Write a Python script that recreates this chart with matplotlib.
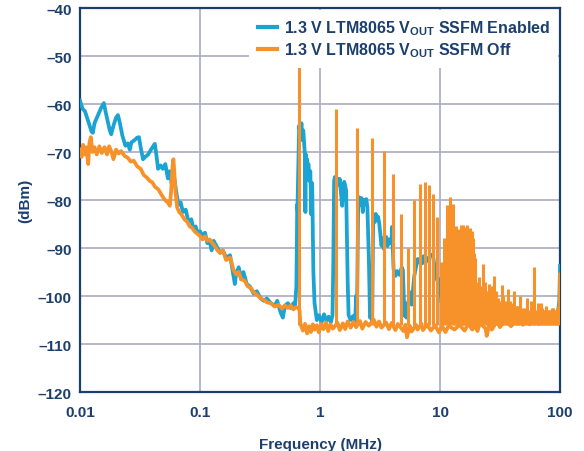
import matplotlib
matplotlib.use("Agg")
import matplotlib.pyplot as plt

# --- data (frequency in MHz, level in dBm) ---
blue_freq = [
    0.0100, 0.0105, 0.0110, 0.0115, 0.0120, 0.0125, 0.0128, 0.0132, 0.0140, 0.0150,
    0.0158, 0.0163, 0.0170, 0.0177, 0.0182, 0.0190, 0.0200, 0.0207, 0.0215, 0.0225,
    0.0239, 0.0250, 0.0260, 0.0268, 0.0285, 0.0300, 0.0310, 0.0320, 0.0335, 0.0350,
    0.0370, 0.0390, 0.0420, 0.0435, 0.0447, 0.0470, 0.0490, 0.0514, 0.0540, 0.0560,
    0.0580, 0.0595, 0.0615, 0.0640, 0.0660, 0.0690, 0.0720, 0.0760, 0.0800, 0.0846,
    0.0880, 0.0920, 0.0960, 0.1000, 0.1050, 0.1100, 0.1150, 0.1200, 0.1250, 0.1300,
    0.1400, 0.1470, 0.1550, 0.1650, 0.1780, 0.1850, 0.1950, 0.2000, 0.2100, 0.2200,
    0.2300, 0.2450, 0.2600, 0.2800, 0.2970, 0.3200, 0.3400, 0.3600, 0.3900, 0.4200,
    0.4400, 0.4700, 0.4900, 0.5100, 0.5400, 0.5700, 0.6000, 0.6200, 0.6350, 0.6420,
    0.6450, 0.6480, 0.6700, 0.6900, 0.7000, 0.7100, 0.7250, 0.7400, 0.7500, 0.7550,
    0.7600, 0.7700, 0.7800, 0.7900, 0.8000, 0.8150, 0.8300, 0.8450, 0.8600, 0.8800,
    0.9000, 0.9400, 0.9800, 1.0300, 1.0800, 1.1300, 1.1800, 1.2300, 1.2700, 1.2900,
    1.3100, 1.3300, 1.3600, 1.3900, 1.4200, 1.4600, 1.5000, 1.5300, 1.5600, 1.5900,
    1.6200, 1.6500, 1.7000, 1.7300, 1.8000, 1.8800, 1.9600, 2.0000, 2.0300, 2.0800,
    2.1200, 2.1700, 2.2200, 2.2700, 2.3200, 2.3800, 2.4300, 2.4800, 2.5500, 2.6100,
    2.6500, 2.7200, 2.7700, 2.8000, 2.8600, 2.9200, 2.9800, 3.0500, 3.1200, 3.2000,
    3.2500, 3.3200, 3.4000, 3.4800, 3.5600, 3.6500, 3.7500, 3.8500, 3.9500, 3.9800,
    4.1000, 4.2500, 4.4000, 4.6000, 4.8000, 4.9000, 5.0500, 5.1500, 5.2500, 5.4000,
    5.6000, 5.8000, 6.1000, 6.3000, 6.5000, 6.7000, 6.9000, 7.1000, 7.3000, 7.6000,
    7.9000, 8.3000, 8.7000, 8.9000, 9.2000, 9.6000, 9.9000, 10.300, 10.800, 11.500,
    12.100, 12.700, 13.300, 13.800, 14.300, 14.700, 15.200, 15.700, 16.200, 16.600,
    17.200, 17.800, 18.500, 19.200, 19.700, 20.300, 22.000, 25.000, 26.500, 29.000,
    33.000, 36.000, 40.000, 44.000, 48.000, 52.000, 57.000, 62.000, 68.000, 74.000,
    80.000, 86.000, 92.000, 96.000, 98.500, 100.00,
]
blue_dbm = [
    -59.3, -61.0, -61.5, -63.0, -64.5, -65.8, -66.0, -64.0, -62.5, -60.8,
    -59.8, -61.5, -63.5, -65.5, -66.3, -64.5, -62.8, -62.3, -64.0, -66.5,
    -68.7, -68.2, -69.5, -68.0, -67.5, -67.0, -66.9, -69.0, -71.5, -71.0,
    -70.5, -69.5, -68.3, -71.0, -73.5, -72.8, -73.5, -72.5, -75.5, -74.0,
    -76.5, -74.0, -76.0, -79.0, -81.0, -80.5, -82.5, -82.0, -84.5, -84.0,
    -86.0, -85.5, -87.0, -86.5, -87.5, -86.8, -89.0, -88.5, -90.5, -88.5,
    -90.0, -91.0, -90.5, -92.0, -91.5, -94.0, -97.5, -95.4, -94.0, -96.5,
    -95.0, -97.5, -98.0, -99.5, -99.0, -100.5, -101.0, -100.5, -101.5, -102.0,
    -101.0, -103.5, -104.5, -102.0, -101.5, -102.5, -101.5, -102.0, -98.0, -88.0,
    -81.0, -82.0, -64.5, -66.5, -64.0, -67.5, -65.5, -69.0, -71.0, -82.5,
    -70.5, -73.0, -71.5, -75.0, -72.5, -76.0, -74.0, -83.0, -76.5, -95.0,
    -101.5, -105.0, -104.0, -105.5, -103.8, -105.2, -104.3, -105.5, -104.0, -93.0,
    -76.0, -75.2, -77.0, -75.5, -76.8, -75.6, -79.0, -81.2, -77.5, -76.2,
    -77.0, -78.0, -97.0, -104.0, -105.0, -104.2, -105.3, -100.0, -104.5, -80.5,
    -79.4, -81.0, -79.6, -82.5, -80.0, -80.6, -79.8, -81.5, -92.0, -104.5,
    -104.0, -105.2, -84.5, -83.0, -84.6, -82.9, -84.2, -83.5, -85.0, -87.8,
    -89.5, -88.0, -90.2, -88.5, -87.7, -89.6, -88.2, -89.0, -87.8, -85.6,
    -94.4, -95.8, -94.8, -95.6, -94.0, -94.6, -104.1, -101.5, -104.5, -102.0,
    -99.2, -101.8, -95.8, -94.0, -92.3, -93.0, -92.0, -93.2, -91.7, -93.0,
    -92.2, -91.6, -91.3, -93.0, -95.8, -97.1, -96.5, -101.3, -99.0, -98.5,
    -97.0, -100.6, -98.0, -100.2, -97.0, -99.5, -97.2, -99.6, -97.5, -100.0,
    -98.5, -100.3, -100.0, -101.3, -100.2, -104.0, -105.5, -104.5, -105.8, -104.8,
    -105.5, -104.6, -105.2, -104.3, -105.0, -104.0, -104.8, -103.8, -104.6, -103.8,
    -104.4, -103.6, -104.0, -103.5, -101.0, -93.7,
]

orange_freq = [
    0.0100, 0.0103, 0.0106, 0.0110, 0.0113, 0.0117, 0.0120, 0.0123, 0.0127, 0.0132,
    0.0138, 0.0145, 0.0152, 0.0160, 0.0168, 0.0175, 0.0183, 0.0190, 0.0200, 0.0210,
    0.0220, 0.0235, 0.0250, 0.0265, 0.0280, 0.0300, 0.0320, 0.0340, 0.0360, 0.0380,
    0.0400, 0.0420, 0.0450, 0.0480, 0.0510, 0.0540, 0.0560, 0.0575, 0.0590, 0.0600,
    0.0610, 0.0625, 0.0645, 0.0670, 0.0700, 0.0740, 0.0780, 0.0820, 0.0860, 0.0900,
    0.0950, 0.1000, 0.1050, 0.1100, 0.1150, 0.1200, 0.1300, 0.1400, 0.1470, 0.1550,
    0.1650, 0.1780, 0.1900, 0.2000, 0.2100, 0.2200, 0.2350, 0.2500, 0.2650, 0.2800,
    0.3000, 0.3200, 0.3400, 0.3600, 0.3900, 0.4200, 0.4500, 0.4800, 0.5100, 0.5400,
    0.5700, 0.6000, 0.6300, 0.6600, 0.6750, 0.6850, 0.6900, 0.7200, 0.7500, 0.7800,
    0.8100, 0.8400, 0.8700, 0.9000, 0.9400, 0.9800, 1.0200, 1.0700, 1.1200, 1.1700,
    1.2200, 1.2800, 1.4000, 1.4600, 1.5500, 1.6200, 1.7000, 1.8000, 1.9000, 2.0000,
    2.1500, 2.2500, 2.4000, 2.5500, 2.8000, 2.9500, 3.1000, 3.2500, 3.5500, 3.7500,
    3.9500, 4.2500, 4.4500, 4.9500, 5.1500, 5.3000, 5.6000, 5.8000, 6.3000, 6.5000,
    7.0000, 7.2000, 7.8000, 8.4000, 9.1000, 9.8000, 10.400, 11.100, 11.800, 13.200,
    14.500, 16.000, 17.200, 18.600, 19.400, 20.500, 21.500, 24.000, 24.500, 26.000,
    27.000, 30.000, 31.500, 35.000, 39.000, 44.000, 49.000, 51.000, 56.000, 64.000,
    66.000, 72.000, 80.000, 86.000, 91.000, 96.000, 99.000, 100.00,
]
orange_dbm = [
    -69.5, -71.0, -68.5, -70.5, -69.0, -72.5, -68.0, -66.9, -70.0, -69.0,
    -70.5, -68.8, -70.2, -69.0, -70.5, -68.8, -70.0, -71.5, -69.5, -70.3,
    -69.8, -70.8, -71.2, -72.0, -71.8, -73.0, -73.5, -74.8, -75.3, -76.0,
    -76.3, -77.2, -77.8, -79.0, -80.0, -80.5, -81.2, -78.0, -73.0, -71.5,
    -74.0, -78.5, -81.5, -82.5, -83.0, -84.0, -84.5, -85.5, -85.8, -86.5,
    -87.0, -87.5, -88.2, -87.6, -88.5, -88.2, -89.3, -90.5, -91.0, -90.5,
    -92.5, -92.0, -94.5, -95.5, -95.0, -96.5, -96.8, -98.0, -98.3, -99.2,
    -99.8, -100.5, -100.8, -101.3, -101.5, -102.2, -101.8, -102.6, -102.0, -102.5,
    -102.0, -102.8, -102.3, -102.5, -103.0, -105.5, -106.0, -107.2, -105.8, -107.8,
    -106.3, -107.5, -105.9, -107.0, -106.1, -107.6, -105.8, -106.9, -105.5, -107.3,
    -105.9, -106.8, -105.6, -107.1, -105.7, -106.9, -105.3, -106.6, -105.4, -106.5,
    -105.2, -106.8, -105.4, -106.2, -104.9, -106.4, -105.3, -106.6, -105.5, -106.9,
    -105.6, -107.1, -105.8, -107.3, -106.0, -108.6, -106.2, -107.4, -106.0, -107.0,
    -105.8, -107.1, -106.0, -107.2, -106.1, -107.6, -106.3, -107.5, -106.2, -107.0,
    -106.0, -107.2, -105.8, -107.0, -106.0, -107.3, -105.6, -106.8, -108.3, -105.4,
    -107.0, -105.2, -106.5, -105.0, -106.3, -104.8, -106.0, -105.0, -105.9, -104.8,
    -105.8, -104.6, -105.5, -104.3, -105.2, -104.0, -104.6, -95.5,
]

# narrow switching harmonics of the SSFM-off trace
spike_freq = [
    0.672, 1.35, 2.03, 2.70, 3.40, 4.08, 4.75, 5.40, 6.08, 6.75,
    7.45, 8.12, 8.80, 9.47, 10.1, 10.8, 11.5, 12.2, 12.9, 13.25,
    13.6, 13.9, 14.2, 14.55, 14.9, 15.25, 15.6, 15.95, 16.3, 16.6,
    16.9, 17.25, 17.6, 17.95, 18.3, 18.65, 19.0, 19.35, 19.7, 20.3,
    21.0, 22.0, 22.8, 23.8, 24.6, 25.5, 26.5, 27.2, 28.1, 29.0,
    30.2, 31.3, 32.6, 33.7, 34.8, 36.0, 37.0, 38.0, 39.3, 41.6,
    43.0, 44.0, 45.0, 46.4, 48.0, 49.5, 51.0, 53.0, 55.0, 57.0,
    59.0, 61.0, 63.0, 65.0, 67.0, 69.0, 71.0, 73.0, 75.0, 77.0,
    79.0, 81.0, 83.0, 86.0, 88.0, 90.0, 93.0, 95.0, 97.0,
]
spike_dbm = [
    -51.0, -61.0, -65.0, -67.0, -69.7, -74.5, -83.0, -90.0, -80.0, -76.7,
    -76.2, -76.8, -78.7, -83.5, -93.0, -88.0, -81.0, -79.4, -80.8, -88.0,
    -85.5, -87.5, -86.0, -87.0, -85.3, -87.5, -85.3, -87.0, -85.6, -87.5,
    -85.3, -87.0, -85.8, -88.0, -86.5, -89.0, -88.0, -91.0, -92.0, -97.0,
    -96.0, -98.0, -93.3, -97.0, -99.0, -97.5, -100.0, -98.0, -95.8, -99.0,
    -100.5, -101.0, -97.8, -100.0, -101.0, -102.0, -98.5, -101.0, -101.5, -99.0,
    -102.0, -102.0, -102.0, -100.0, -103.0, -102.5, -102.5, -100.5, -103.0, -101.0,
    -102.0, -94.0, -103.0, -101.5, -103.0, -101.5, -102.5, -103.0, -103.0, -102.0,
    -103.0, -103.0, -103.0, -102.5, -102.5, -103.0, -103.0, -102.5, -102.0,
]
spike_base = -106.0

x_ticks = [0.01, 0.1, 1, 10, 100]
x_tick_labels = ["0.01", "0.1", "1", "10", "100"]
y_ticks = [-120, -110, -100, -90, -80, -70, -60, -50, -40]

navy = "#1c3f6e"
blue = "#1ba3d3"
orange = "#f7922a"

plt.rcParams["font.family"] = ["Liberation Sans", "DejaVu Sans"]
plt.rcParams["font.weight"] = "bold"
plt.rcParams["mathtext.fontset"] = "custom"
plt.rcParams["mathtext.bf"] = "Liberation Sans:bold"
plt.rcParams["mathtext.rm"] = "Liberation Sans:bold"

fig = plt.figure(figsize=(5.84, 4.52), dpi=100)
ax = fig.add_axes([0.137, 0.1305, 0.822, 0.8495])

ax.plot(blue_freq, blue_dbm, color=blue, lw=2.7, zorder=3,
        label=r"1.3 V LTM8065 V$_{\mathbf{OUT}}$ SSFM Enabled")
ax.plot(orange_freq, orange_dbm, color=orange, lw=2.7, zorder=4,
        label=r"1.3 V LTM8065 V$_{\mathbf{OUT}}$ SSFM Off")
ax.vlines(spike_freq, spike_base, spike_dbm, color=orange, lw=2.2, zorder=4)

ax.set_xscale("log")
ax.set_xlim(0.01, 100)
ax.set_ylim(-120, -40)
ax.set_xticks(x_ticks)
ax.set_xticklabels(x_tick_labels)
ax.set_yticks(y_ticks)
ax.set_yticklabels([str(v).replace("-", "\u2013") for v in y_ticks])
ax.minorticks_off()
ax.tick_params(length=0, labelsize=11, labelcolor=navy)
ax.tick_params(axis="x", pad=9)
ax.tick_params(axis="y", pad=6)

ax.grid(True, color="#aaaac2", lw=1.2, zorder=0)
for s in ax.spines.values():
    s.set_color(navy)
    s.set_linewidth(1.6)

ax.set_xlabel("Frequency (MHz)", fontsize=11, color=navy, fontweight="bold", labelpad=13)
ax.set_ylabel("(dBm)", fontsize=11, color=navy, fontweight="bold", labelpad=4)

leg = ax.legend(loc="upper right", bbox_to_anchor=(1.0, 1.0), frameon=True,
                fontsize=11.5, handlelength=1.2, handletextpad=0.4,
                borderaxespad=0.1, borderpad=0.55, labelspacing=0.2, fancybox=False)
leg.get_frame().set_edgecolor("none")
leg.get_frame().set_facecolor("white")
leg.get_frame().set_alpha(1.0)
leg.set_zorder(6)
for t in leg.get_texts():
    t.set_color(navy)
for h in leg.get_lines():
    h.set_linewidth(3.0)

fig.savefig("out.png", dpi=100)
